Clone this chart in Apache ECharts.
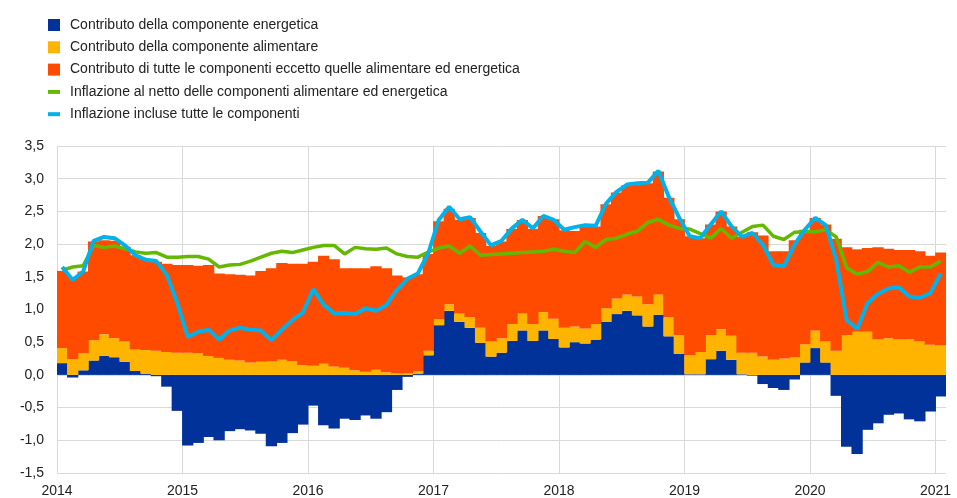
<!DOCTYPE html>
<html>
<head>
<meta charset="utf-8">
<script src="https://cdn.jsdelivr.net/npm/echarts@6/dist/echarts.min.js"></script>
<style>
  html, body { margin: 0; padding: 0; background: #ffffff; }
  #chart { width: 957px; height: 498px; }
</style>
</head>
<body>
<div id="chart"></div>
<script>
  // mesi da gen 2014 a gen 2021
  var yearTicks = ['2014', '2015', '2016', '2017', '2018', '2019', '2020', '2021'];
  var months = [];
  for (var y = 2014; y <= 2021; y++) {
    for (var m = 1; m <= 12; m++) {
      if (y === 2021 && m > 1) break;
      months.push(y + '-' + (m < 10 ? '0' + m : m));
    }
  }

  var energia = [
    0.18, -0.04, 0.07, 0.22, 0.29, 0.27, 0.20, 0.06, 0.02, -0.02, -0.18, -0.55,
    -1.08, -1.04, -0.95, -1.00, -0.86, -0.83, -0.85, -0.90, -1.09, -1.04, -0.89, -0.76,
    -0.47, -0.77, -0.82, -0.67, -0.69, -0.62, -0.67, -0.57, -0.23, -0.03, 0.02, 0.30,
    0.76, 0.98, 0.81, 0.72, 0.49, 0.28, 0.34, 0.52, 0.68, 0.52, 0.68, 0.55,
    0.42, 0.50, 0.48, 0.54, 0.81, 0.93, 0.98, 0.91, 0.74, 0.92, 0.59, 0.32,
    0.01, 0.01, 0.24, 0.37, 0.23, 0.01, -0.01, -0.14, -0.20, -0.23, -0.07, 0.19,
    0.41, 0.19, -0.32, -1.10, -1.21, -0.84, -0.74, -0.61, -0.59, -0.68, -0.71, -0.56,
    -0.33
  ];
  var alimentare = [
    0.23, 0.24, 0.26, 0.31, 0.33, 0.29, 0.31, 0.33, 0.36, 0.37, 0.35, 0.34,
    0.34, 0.33, 0.29, 0.26, 0.23, 0.22, 0.19, 0.20, 0.21, 0.23, 0.21, 0.15,
    0.14, 0.17, 0.13, 0.11, 0.07, 0.05, 0.08, 0.04, 0.02, 0.02, 0.04, 0.07,
    0.09, 0.10, 0.13, 0.16, 0.23, 0.23, 0.22, 0.26, 0.26, 0.26, 0.28, 0.31,
    0.30, 0.24, 0.23, 0.24, 0.21, 0.24, 0.25, 0.29, 0.34, 0.31, 0.29, 0.29,
    0.29, 0.34, 0.37, 0.33, 0.37, 0.33, 0.34, 0.28, 0.23, 0.25, 0.27, 0.28,
    0.27, 0.32, 0.37, 0.61, 0.66, 0.66, 0.54, 0.56, 0.54, 0.55, 0.51, 0.46,
    0.45
  ];
  var altre = [
    1.18, 1.26, 1.25, 1.51, 1.44, 1.49, 1.45, 1.44, 1.38, 1.36, 1.35, 1.34,
    1.34, 1.34, 1.39, 1.29, 1.31, 1.31, 1.33, 1.39, 1.42, 1.48, 1.49, 1.55,
    1.59, 1.65, 1.64, 1.52, 1.56, 1.58, 1.58, 1.59, 1.50, 1.47, 1.48, 1.48,
    1.50, 1.46, 1.43, 1.52, 1.45, 1.46, 1.48, 1.45, 1.43, 1.45, 1.47, 1.52,
    1.49, 1.46, 1.56, 1.49, 1.59, 1.62, 1.67, 1.72, 1.85, 1.88, 1.83, 1.77,
    1.82, 1.74, 1.69, 1.80, 1.67, 1.77, 1.84, 1.85, 1.66, 1.64, 1.79, 1.75,
    1.72, 1.79, 1.71, 1.34, 1.26, 1.28, 1.41, 1.37, 1.37, 1.36, 1.38, 1.36,
    1.42
  ];
  var inflazioneNetto = [
    1.60, 1.65, 1.67, 1.98, 1.95, 1.97, 1.93, 1.88, 1.86, 1.87, 1.80, 1.80,
    1.81, 1.81, 1.77, 1.65, 1.68, 1.69, 1.74, 1.80, 1.86, 1.89, 1.87, 1.91,
    1.95, 1.98, 1.98, 1.85, 1.95, 1.93, 1.92, 1.94, 1.85, 1.81, 1.80, 1.88,
    1.94, 1.97, 1.86, 1.97, 1.83, 1.84, 1.85, 1.86, 1.87, 1.88, 1.89, 1.92,
    1.89, 1.87, 2.04, 1.95, 2.07, 2.09, 2.15, 2.20, 2.33, 2.38, 2.29, 2.24,
    2.23, 2.16, 2.09, 2.24, 2.09, 2.18, 2.27, 2.29, 2.12, 2.07, 2.18, 2.19,
    2.19, 2.22, 2.11, 1.64, 1.54, 1.58, 1.72, 1.65, 1.67, 1.57, 1.65, 1.65,
    1.74
  ];
  var inflazioneTotale = [
    1.65, 1.45, 1.58, 2.05, 2.11, 2.09, 1.98, 1.83, 1.76, 1.74, 1.53, 1.10,
    0.58, 0.66, 0.69, 0.54, 0.68, 0.72, 0.69, 0.68, 0.53, 0.69, 0.84, 0.95,
    1.31, 1.07, 0.94, 0.95, 0.93, 1.02, 0.98, 1.07, 1.30, 1.47, 1.55, 1.86,
    2.37, 2.57, 2.38, 2.41, 2.19, 1.98, 2.05, 2.24, 2.37, 2.24, 2.43, 2.37,
    2.22, 2.26, 2.29, 2.28, 2.62, 2.80, 2.91, 2.93, 2.94, 3.12, 2.72, 2.40,
    2.12, 2.09, 2.30, 2.50, 2.27, 2.11, 2.17, 1.99, 1.68, 1.66, 1.99, 2.22,
    2.40, 2.29, 1.76, 0.84, 0.70, 1.10, 1.24, 1.32, 1.34, 1.20, 1.18, 1.25,
    1.55
  ];

  // asse dei confini d'anno: etichette sui bordi dei mesi
  var bounds = [];
  for (var i = 0; i <= months.length; i++) {
    bounds.push(i % 12 === 0 ? yearTicks[i / 12] : '');
  }

  var nomi = [
    'Contributo della componente energetica',
    'Contributo della componente alimentare',
    'Contributo di tutte le componenti eccetto quelle alimentare ed energetica',
    'Inflazione al netto delle componenti alimentare ed energetica',
    'Inflazione incluse tutte le componenti'
  ];
  var iconaLinea = 'path://M0,0 L12,0 L12,4 L0,4 Z';

  var chart = echarts.init(document.getElementById('chart'));
  chart.setOption({
    animation: false,
    textStyle: { fontFamily: 'Liberation Sans, Arial, sans-serif' },
    legend: {
      orient: 'vertical',
      left: 43,
      top: 13,
      itemWidth: 12,
      itemHeight: 12,
      itemGap: 8.3,
      symbolKeepAspect: true,
      textStyle: { fontSize: 14, color: '#222', lineHeight: 14, padding: [0, 0, 0, 5] },
      data: [
        { name: nomi[0], icon: 'rect' },
        { name: nomi[1], icon: 'rect' },
        { name: nomi[2], icon: 'rect' },
        { name: nomi[3], icon: iconaLinea, itemStyle: { color: '#65b800' } },
        { name: nomi[4], icon: iconaLinea, itemStyle: { color: '#00b1ea' } }
      ]
    },
    grid: { left: 57, right: 11, top: 146, bottom: 25 },
    xAxis: [
      {
        type: 'category',
        data: months,
        boundaryGap: true,
        show: false
      },
      {
        type: 'category',
        data: bounds,
        boundaryGap: false,
        position: 'bottom',
        axisLine: { show: false },
        axisTick: { show: false },
        axisLabel: {
          interval: function (idx) { return idx % 12 === 0; },
          fontSize: 14,
          color: '#222',
          margin: 11
        },
        splitLine: {
          show: true,
          interval: function (idx) { return idx % 12 === 0; },
          lineStyle: { color: '#d9d9d9', width: 1 }
        }
      }
    ],
    yAxis: {
      type: 'value',
      min: -1.5,
      max: 3.5,
      interval: 0.5,
      axisLine: { show: false },
      axisTick: { show: false },
      axisLabel: {
        fontSize: 14,
        color: '#222',
        margin: 13,
        formatter: function (v) { return v.toFixed(1).replace('.', ','); }
      },
      splitLine: { lineStyle: { color: '#d9d9d9', width: 1 } }
    },
    series: [
      {
        name: nomi[0], type: 'bar', stack: 'tot', xAxisIndex: 0,
        barWidth: '108%', data: energia,
        itemStyle: { color: '#003299' }
      },
      {
        name: nomi[1], type: 'bar', stack: 'tot', xAxisIndex: 0,
        barWidth: '108%', data: alimentare,
        itemStyle: { color: '#ffb400' }
      },
      {
        name: nomi[2], type: 'bar', stack: 'tot', xAxisIndex: 0,
        barWidth: '108%', data: altre,
        itemStyle: { color: '#ff4b00' }
      },
      {
        name: nomi[3], type: 'line', xAxisIndex: 0, data: inflazioneNetto,
        symbol: 'none', color: '#65b800',
        lineStyle: { color: '#65b800', width: 3.5 }
      },
      {
        name: nomi[4], type: 'line', xAxisIndex: 0, data: inflazioneTotale,
        symbol: 'none', color: '#00b1ea',
        lineStyle: { color: '#00b1ea', width: 4 }
      }
    ]
  });
</script>
</body>
</html>
